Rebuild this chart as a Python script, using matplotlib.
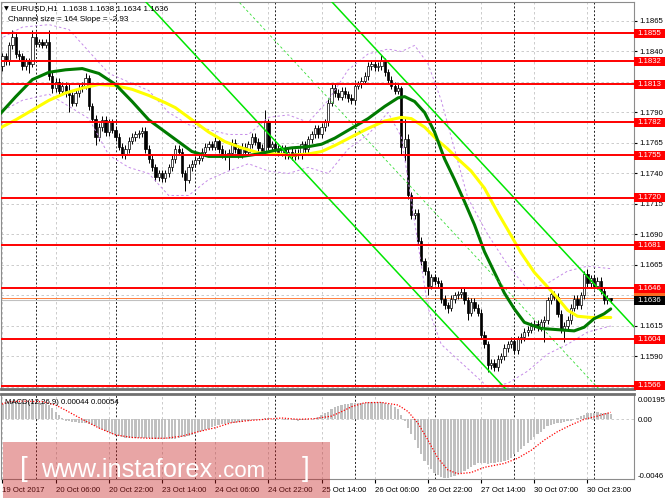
import numpy as np
import matplotlib
matplotlib.use("Agg")
import matplotlib.pyplot as plt
import matplotlib.transforms as mtransforms
from matplotlib.patches import Rectangle

plt.rcParams['font.family'] = ['Liberation Sans', 'DejaVu Sans']

# ---------------- data ----------------
time_labels = ["19 Oct 2017", "20 Oct 06:00", "20 Oct 22:00", "23 Oct 14:00",
               "24 Oct 06:00", "24 Oct 22:00", "25 Oct 14:00", "26 Oct 06:00",
               "26 Oct 22:00", "27 Oct 14:00", "30 Oct 07:00", "30 Oct 23:00"]
label_bars = [0, 16, 32, 48, 64, 80, 96, 112, 128, 144, 160, 176]
day_start_bars = [10, 34, 58, 82, 106, 130, 154, 178]

first_open = 1.1828
closes = [
    1.1836, 1.1832, 1.1845, 1.1852, 1.1838, 1.1836, 1.1828, 1.1832, 1.1830, 1.1852,
    1.1846, 1.1848, 1.1845, 1.1848, 1.1820, 1.1810, 1.1815, 1.1808, 1.1812, 1.1806,
    1.1804, 1.1798, 1.1806, 1.1810, 1.1812, 1.1818, 1.1795, 1.1785, 1.1770, 1.1778,
    1.1784, 1.1774, 1.1782, 1.1776, 1.1770, 1.1762, 1.1756, 1.1760, 1.1767, 1.1770,
    1.1772, 1.1773, 1.1775, 1.1760, 1.1752, 1.1745, 1.1737, 1.1740, 1.1736, 1.1740,
    1.1745, 1.1752, 1.1760, 1.1758, 1.1740, 1.1735, 1.1745, 1.1748, 1.1751, 1.1753,
    1.1758, 1.1762, 1.1764, 1.1762, 1.1767, 1.1760, 1.1756, 1.1754, 1.1757, 1.1765,
    1.1760, 1.1756, 1.1762, 1.1758, 1.1764, 1.1770, 1.1766, 1.1761, 1.1758, 1.1782,
    1.1762, 1.1764, 1.1760, 1.1757, 1.1760, 1.1755, 1.1758, 1.1754, 1.1757, 1.1755,
    1.1764, 1.1760, 1.1768, 1.1772, 1.1777, 1.1772, 1.1778, 1.1782, 1.1798, 1.1810,
    1.1806, 1.1803, 1.1808, 1.1805, 1.1802, 1.1800, 1.1812, 1.1813, 1.1816, 1.1820,
    1.1828, 1.1830, 1.1827, 1.1828, 1.1832, 1.1823, 1.1817, 1.1812, 1.1808, 1.1810,
    1.1762, 1.1768, 1.1722, 1.1706, 1.1708, 1.1685, 1.1668, 1.1660, 1.1648, 1.1655,
    1.1652, 1.1650, 1.1637, 1.1632, 1.1630, 1.1637, 1.1640, 1.1641, 1.1643, 1.1636,
    1.1626, 1.1635, 1.1630, 1.1626, 1.1608, 1.1600, 1.1583, 1.1585, 1.1581, 1.1588,
    1.1590, 1.1597, 1.1600, 1.1603, 1.1595, 1.1604, 1.1606, 1.1610, 1.1612, 1.1615,
    1.1617, 1.1614, 1.1618, 1.1620, 1.1636, 1.1641, 1.1639, 1.1625, 1.1612, 1.1615,
    1.1620, 1.1630, 1.1637, 1.1632, 1.1640, 1.1658, 1.1650, 1.1654, 1.1648, 1.1652,
    1.1644, 1.1636, 1.1638, 1.1636]
up_wick_pips = [
    3, 3, 3, 6, 3, 3, 3, 3, 3, 6,
    3, 2, 2, 2, 10, 3, 3, 3, 3, 3,
    8, 3, 3, 3, 3, 4, 3, 3, 3, 3,
    3, 3, 3, 3, 3, 3, 3, 3, 3, 3,
    3, 3, 3, 3, 3, 3, 3, 3, 3, 3,
    3, 3, 3, 3, 3, 3, 3, 3, 3, 3,
    3, 3, 3, 3, 3, 3, 3, 3, 3, 3,
    3, 3, 3, 3, 3, 3, 3, 3, 3, 10,
    3, 3, 3, 3, 3, 3, 3, 3, 3, 3,
    3, 3, 3, 3, 3, 3, 3, 3, 3, 3,
    3, 3, 3, 3, 3, 3, 3, 3, 3, 3,
    3, 3, 3, 3, 5, 3, 3, 3, 3, 3,
    2, 18, 4, 3, 3, 3, 3, 3, 3, 3,
    3, 3, 3, 3, 3, 3, 3, 3, 3, 3,
    3, 3, 3, 3, 3, 3, 3, 3, 3, 3,
    3, 3, 3, 3, 3, 3, 3, 3, 3, 3,
    3, 3, 3, 3, 3, 3, 3, 3, 3, 3,
    3, 3, 3, 3, 3, 2, 4, 3, 3, 3,
    3, 3, 2, 0]
down_wick_pips = [
    4, 3, 3, 3, 3, 3, 3, 3, 8, 3,
    2, 2, 2, 2, 3, 4, 3, 3, 3, 3,
    14, 3, 3, 3, 3, 3, 3, 3, 7, 3,
    3, 3, 3, 3, 3, 3, 3, 4, 3, 3,
    3, 3, 3, 3, 3, 3, 3, 3, 3, 3,
    3, 3, 3, 3, 3, 9, 3, 3, 3, 3,
    3, 3, 3, 3, 3, 3, 3, 3, 11, 3,
    3, 3, 3, 3, 3, 3, 3, 3, 3, 3,
    3, 3, 3, 3, 3, 3, 3, 3, 3, 3,
    3, 3, 3, 3, 3, 3, 3, 3, 3, 3,
    3, 3, 3, 3, 3, 3, 3, 3, 3, 3,
    3, 3, 3, 3, 3, 3, 3, 3, 3, 3,
    7, 12, 3, 3, 3, 3, 3, 3, 8, 3,
    3, 3, 3, 3, 4, 3, 3, 3, 3, 3,
    6, 3, 3, 3, 3, 3, 6, 3, 3, 3,
    3, 3, 3, 3, 3, 3, 3, 3, 3, 3,
    3, 3, 3, 16, 3, 3, 3, 3, 3, 10,
    3, 3, 3, 3, 3, 3, 3, 3, 3, 3,
    3, 3, 3, 2]

ma_fast_bars = [-1, 4, 9, 14, 19, 24, 29, 34, 39, 44, 49, 53, 57, 62, 67, 72, 77, 82, 87,
                92, 96, 100, 105, 110, 115, 119, 121, 124, 127, 130, 133, 136, 139, 142,
                145, 148, 151, 154, 157, 162, 167, 172, 175, 178, 181, 183]
ma_fast_vals = [1.1788, 1.1803, 1.1817, 1.1823, 1.1825, 1.1826, 1.1822, 1.1813, 1.1799,
                1.1784, 1.1774, 1.1766, 1.1758, 1.1754, 1.1754, 1.1754, 1.1756, 1.1759,
                1.1761, 1.1762, 1.1764, 1.1769, 1.1777, 1.1785, 1.1795, 1.1802, 1.1803,
                1.1799, 1.1790, 1.1774, 1.1752, 1.1735, 1.1717, 1.1698, 1.1676, 1.1659,
                1.1642, 1.1629, 1.1618, 1.1613, 1.1612, 1.1611, 1.1614, 1.1621, 1.1625,
                1.1629]
ma_slow_bars = [-1, 4, 9, 14, 19, 24, 29, 34, 39, 44, 49, 52, 57, 62, 67, 72, 77, 82, 87,
                92, 96, 100, 105, 110, 115, 120, 123, 127, 131, 134, 137, 141, 145, 149,
                152, 156, 160, 164, 167, 170, 173, 177, 183]
ma_slow_vals = [1.1777, 1.1784, 1.1792, 1.1800, 1.1806, 1.1810, 1.1813, 1.1812, 1.1809,
                1.1804, 1.1798, 1.1794, 1.1784, 1.1774, 1.1766, 1.1761, 1.1757, 1.1756,
                1.1755, 1.1756, 1.1758, 1.1763, 1.1770, 1.1777, 1.1783, 1.1786, 1.1785,
                1.1778, 1.1767, 1.1760, 1.1752, 1.1742, 1.1728, 1.1708, 1.1694, 1.1675,
                1.1659, 1.1647, 1.1638, 1.1628, 1.1623, 1.1622, 1.1622]

band_bars = [-1, 6, 14, 20, 26, 32, 38, 44, 50, 56, 62, 68, 74, 80, 86, 92, 98, 104, 110,
             116, 120, 124, 128, 132, 136, 140, 146, 152, 158, 164, 170, 176, 183]
band_upper = [1.1850, 1.1860, 1.1862, 1.1858, 1.1840, 1.1822, 1.1815, 1.1808, 1.1790,
              1.1780, 1.1776, 1.1772, 1.1772, 1.1786, 1.1788, 1.1782, 1.1800, 1.1825,
              1.1838, 1.1842, 1.1840, 1.1845, 1.1830, 1.1800, 1.1760, 1.1720, 1.1690,
              1.1665, 1.1645, 1.1650, 1.1660, 1.1664, 1.1662]
band_lower = [1.1790, 1.1800, 1.1805, 1.1795, 1.1785, 1.1755, 1.1745, 1.1740, 1.1722,
              1.1722, 1.1735, 1.1742, 1.1748, 1.1742, 1.1740, 1.1745, 1.1740, 1.1760,
              1.1772, 1.1790, 1.1770, 1.1700, 1.1630, 1.1600, 1.1590, 1.1580, 1.1565,
              1.1568, 1.1578, 1.1592, 1.1600, 1.1610, 1.1615]

levels = [1.1855, 1.1832, 1.1813, 1.1782, 1.1755, 1.1720, 1.1681, 1.1646, 1.1604, 1.1566]
bid_price = 1.1636
ask_price = 1.1638
price_ticks = [1.1565, 1.1590, 1.1615, 1.1640, 1.1665, 1.1690, 1.1715, 1.1740, 1.1765,
               1.1790, 1.1815, 1.1840, 1.1865]
# tick labels that sit under a level box in the reference
hidden_tick_labels = [1.1565, 1.1640, 1.1815]

channel_size_pips = 164
channel_slope_pips = -2.93
channel_ref_bar = 143.6
channel_ref_mid = 1.16683

macd_hist_e4 = [
    12, 12.5, 13, 13, 13, 13, 13, 13, 13, 13,
    13, 13, 12.5, 12, 11, 8.7, 6, 3.5, 1, -1,
    -1.5, -2, -2.3, -2.5, -2.6, -3, -3.8, -4.5, -5.5, -6.7,
    -7.8, -8.8, -9.8, -11, -12, -13, -14, -14.6, -14.6, -14.6,
    -14.6, -14.6, -14.4, -14.4, -14.6, -15, -15.4, -15.4, -15.4, -15.4,
    -15.2, -15, -14.8, -14.5, -14, -13.5, -13, -12, -11, -10,
    -9, -8.2, -7.2, -6.2, -5.2, -4.6, -4, -3.5, -3.2, -3,
    -2.6, -2.2, -1.8, -1.5, -1.3, -0.8, -0.3, 0, 0.5, 0.8,
    0.8, 0.6, 0.4, 0.2, 0, -0.2, -0.4, -0.6, -0.8, -1,
    -0.9, -0.6, -0.2, 0.3, 1, 2, 3.2, 4.5, 6, 8,
    9.5, 10.5, 11, 11.5, 12, 12.2, 12.5, 12.7, 12.8, 12.9,
    13, 13, 13, 13, 13, 12.6, 12, 11, 9.5, 8,
    3, -1, -6.5, -11, -16, -22, -27, -32, -35.5, -38.5,
    -41, -43, -44.5, -45, -45, -44.5, -43.5, -42.5, -41, -39.5,
    -38, -36.5, -35, -34, -33.5, -34, -34.5, -34, -33.5, -33,
    -33, -32.5, -31.5, -29.5, -27, -25, -23, -20.5, -18, -16,
    -14, -11.5, -9.5, -7.5, -5.5, -4.5, -3.5, -3, -2.5, -2,
    -1.5, -1, 0, 1, 2.2, 3.5, 4.5, 5, 5.2, 5.3,
    5.2, 5, 4.6, 4.4]
macd_sig_bars = [-1, 2, 6, 12, 16, 19, 24, 29, 34, 39, 44, 49, 54, 59, 64, 69, 74, 79, 84,
                 89, 94, 99, 102, 105, 109, 114, 119, 122, 125, 128, 131, 134, 137, 141,
                 145, 151, 155, 159, 163, 167, 171, 175, 179, 183]
macd_sig_e4 = [11, 13.6, 14, 13.6, 11, 7, 0, -6.7, -12, -14, -14.6, -14.6, -13, -9.5,
               -6.5, -2.5, -1, 0, 1, 0, 0.5, 2.5, 5.9, 9.7, 12.8, 13, 11, 6, -3, -16, -30,
               -39, -42, -41, -37, -34, -30, -24, -16, -9.5, -4.4, 0, 2.5, 5.4]

# ---------------- figure ----------------
W, H = 665, 499
fig = plt.figure(figsize=(W / 100, H / 100), dpi=100)
fig.patch.set_facecolor('white')


def fx(x):
    return x / W


def fy(y):
    return 1 - y / H


ax = fig.add_axes([fx(1), fy(389), fx(634) - fx(1), fy(2) - fy(389)])
axm = fig.add_axes([fx(1), fy(479), fx(634) - fx(1), fy(394) - fy(479)])

XL = (-0.45, 190.0)
ax.set_xlim(*XL)
axm.set_xlim(*XL)
ax.set_ylim(1.156336, 1.188057)
axm.set_ylim(-0.0046, 0.00195)

FS = 5.6
grid_kw = dict(color='#c4c4c4', lw=0.6, ls=(0, (3, 3)))

# grids and price scale
ax.set_yticks(price_ticks)
ax.set_yticklabels(["" if v in hidden_tick_labels else f"{v:.4f}" for v in price_ticks])
ax.yaxis.tick_right()
ax.tick_params(axis='y', length=2, pad=2, labelsize=FS, colors='black')
ax.set_xticks(label_bars)
ax.tick_params(axis='x', length=0, labelbottom=False)
for p in price_ticks:
    ax.axhline(p, zorder=1, **grid_kw)
for b in label_bars:
    ax.axvline(b, zorder=1, **grid_kw)
    axm.axvline(b, zorder=1, **grid_kw)
for b in day_start_bars:
    ax.axvline(b, color='#202020', lw=0.7, ls=(0, (2, 2)), zorder=1.2)
    axm.axvline(b, color='#202020', lw=0.7, ls=(0, (2, 2)), zorder=1.2)

# candles
c = np.array(closes)
o = np.concatenate([[first_open], c[:-1]])
n = len(c)
idx = np.arange(n)
hi = np.maximum(o, c) + np.array(up_wick_pips) * 1e-4
lo = np.minimum(o, c) - np.array(down_wick_pips) * 1e-4
ax.vlines(idx, lo, hi, color='black', lw=0.7, zorder=3)
bull = c >= o
bot = np.minimum(o, c)
hgt = np.maximum(np.abs(c - o), 0.00005)
ax.bar(idx[bull], hgt[bull], bottom=bot[bull], width=0.68, color='white',
       edgecolor='black', linewidth=0.5, zorder=3.1)
ax.bar(idx[~bull], hgt[~bull], bottom=bot[~bull], width=0.68, color='black',
       edgecolor='black', linewidth=0.5, zorder=3.1)

# bands
band_kw = dict(color='#c58be8', lw=0.7, ls=(0, (2.5, 2.5)), zorder=3.5)
ax.plot(band_bars, band_upper, **band_kw)
ax.plot(band_bars, band_lower, **band_kw)

# moving averages
ax.plot(ma_slow_bars, ma_slow_vals, color='#ffff00', lw=2.2, zorder=4, solid_capstyle='round')
ax.plot(ma_fast_bars, ma_fast_vals, color='#007a00', lw=2.2, zorder=4.1, solid_capstyle='round')

# regression channel
half = channel_size_pips / 2 * 1e-4
slope = channel_slope_pips * 1e-4
cx = np.array([20.0, 195.0])
mid = channel_ref_mid + slope * (cx - channel_ref_bar)
ax.plot(cx, mid + half, color='#00e600', lw=1.1, zorder=5)
ax.plot(cx, mid - half, color='#00e600', lw=1.1, zorder=5)
ax.plot(cx, mid, color='#33dd33', lw=0.6, ls=(0, (3, 3)), zorder=5)

# bid / ask lines
ax.axhline(bid_price, color='#c0c0c0', lw=0.8, zorder=2)
ax.axhline(ask_price + 0.00002, color='#ff6a20', lw=0.6, zorder=2)

# horizontal levels
for lv in levels:
    ax.axhline(lv, color='#ff0000', lw=1.4, zorder=5.5)

blend = mtransforms.blended_transform_factory(fig.transFigure, ax.transData)
box_h = 9 / 12200.0


def price_box(p, txt, fc, tc='white', z=20, show_text=True):
    ax.add_artist(Rectangle((fx(634), p - box_h / 2), fx(666) - fx(634), box_h,
                            transform=blend, facecolor=fc, edgecolor='none',
                            clip_on=False, zorder=z))
    if show_text:
        ax.text(fx(637.5), p, txt, transform=blend, ha='left', va='center',
                color=tc, fontsize=FS, clip_on=False, zorder=z + 0.5)


# ask label box lies mostly under the bid box; only its top edge shows
price_box(ask_price + 0.0004, f"{ask_price:.4f}", '#ff6a20', z=20, show_text=False)
for lv in levels:
    price_box(lv, f"{lv:.4f}", '#ff0000', z=21)
price_box(bid_price, f"{bid_price:.4f}", 'black', z=22)

# header texts
fig.text(fx(4), fy(8.5), "\u25bc", fontsize=4.5, va='center', ha='left',
         family=['DejaVu Sans'])
fig.text(fx(11), fy(8.5), "EURUSD,H1  1.1638 1.1638 1.1634 1.1636", fontsize=5.9,
         va='center', ha='left')
fig.text(fx(8), fy(19.5), "Channel size = 164 Slope = -2.93", fontsize=5.9,
         va='center', ha='left')

# MACD panel
hist = np.array(macd_hist_e4) * 1e-4
axm.bar(idx, hist, width=0.68, color='#c0c0c0', zorder=2)
axm.axhline(0, zorder=1, **grid_kw)
axm.plot(macd_sig_bars, np.array(macd_sig_e4) * 1e-4, color='#ff0000', lw=0.9,
         ls=(0, (1, 1.3)), zorder=3)
axm.set_yticks([])
axm.set_xticks(label_bars)
axm.set_xticklabels(time_labels, fontsize=FS)
for lbl in axm.get_xticklabels():
    lbl.set_ha('left')
axm.tick_params(axis='x', length=3, pad=3, direction='out', colors='black')
fig.text(fx(5), fy(402), "MACD(12,26,9) 0.00044 0.00054", fontsize=5.6,
         va='center', ha='left')
fig.text(fx(637.5), fy(400), "0.00195", fontsize=FS, va='center', ha='left')
fig.text(fx(637.5), fy(421), "0.00", fontsize=FS, va='center', ha='left')
fig.text(fx(637.5), fy(476), "-0.0046", fontsize=FS, va='center', ha='left')

for a in (ax, axm):
    for s in a.spines.values():
        s.set_color('#8c8c8c')
        s.set_linewidth(0.8)
ax.spines['bottom'].set_linewidth(2.0)
axm.spines['top'].set_linewidth(2.0)
ax.spines['bottom'].set_color('#707070')
axm.spines['top'].set_color('#707070')

# watermark
fig.add_artist(Rectangle((fx(3), fy(498)), fx(330) - fx(3), fy(442) - fy(498),
                         transform=fig.transFigure, facecolor=(0.78, 0.12, 0.12),
                         alpha=0.40, edgecolor='none', zorder=10))
wm_fam = ['Liberation Sans', 'DejaVu Sans']
fig.text(fx(20), fy(469), "[", fontsize=20, color='white', va='center', ha='left',
         family=wm_fam, zorder=11)
fig.text(fx(41), fy(477), "www.instaforex", fontsize=18.3, color='white', va='baseline',
         ha='left', family=wm_fam, zorder=11)
fig.text(fx(217), fy(477), ".com", fontsize=16, color='white', va='baseline',
         ha='left', family=wm_fam, zorder=11)
fig.text(fx(302), fy(469), "]", fontsize=20, color='white', va='center', ha='left',
         family=wm_fam, zorder=11)

fig.savefig("out.png", dpi=100, facecolor='white')
